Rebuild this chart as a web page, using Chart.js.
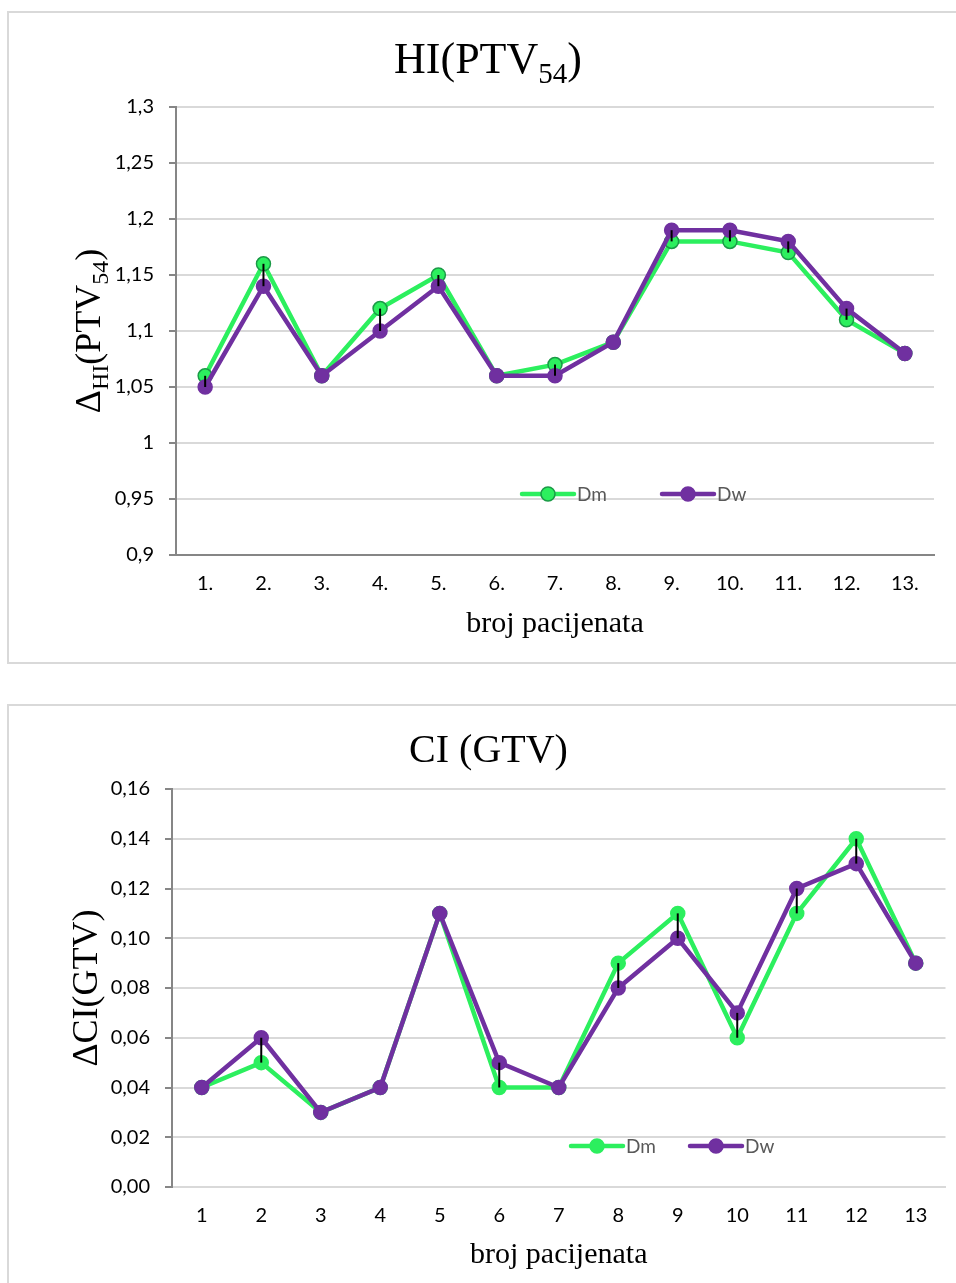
<!DOCTYPE html>
<html>
<head>
<meta charset="utf-8">
<script src="https://cdn.jsdelivr.net/npm/chart.js@4"></script>
<style>
  html, body { margin: 0; padding: 0; background: #fff; overflow: hidden; }
  .box { position: absolute; left: 7px; width: 960px; border: 2px solid #d9d9d9; background: #fff; }
  #box1 { top: 11px; height: 649px; }
  #box2 { top: 704px; height: 598px; }
  canvas { display: block; }
</style>
</head>
<body>
<div class="box" id="box1"><canvas id="hi" width="945" height="649"></canvas></div>
<div class="box" id="box2"><canvas id="ci" width="945" height="598"></canvas></div>
<script>
// HI(PTV54) chart
const patients1 = ['1.', '2.', '3.', '4.', '5.', '6.', '7.', '8.', '9.', '10.', '11.', '12.', '13.'];
const hiDm = [1.06, 1.16, 1.06, 1.12, 1.15, 1.06, 1.07, 1.09, 1.18, 1.18, 1.17, 1.11, 1.08];
const hiDw = [1.05, 1.14, 1.06, 1.10, 1.14, 1.06, 1.06, 1.09, 1.19, 1.19, 1.18, 1.12, 1.08];
const hiTicks = ['0,9', '0,95', '1', '1,05', '1,1', '1,15', '1,2', '1,25', '1,3'];

// CI (GTV) chart
const patients2 = ['1', '2', '3', '4', '5', '6', '7', '8', '9', '10', '11', '12', '13'];
const ciDm = [0.04, 0.05, 0.03, 0.04, 0.11, 0.04, 0.04, 0.09, 0.11, 0.06, 0.11, 0.14, 0.09];
const ciDw = [0.04, 0.06, 0.03, 0.04, 0.11, 0.05, 0.04, 0.08, 0.10, 0.07, 0.12, 0.13, 0.09];
const ciTicks = ['0,00', '0,02', '0,04', '0,06', '0,08', '0,10', '0,12', '0,14', '0,16'];

const GREEN = '#2cef5e';
const PURPLE = '#7030a0';
const SERIF = '"Liberation Serif", "Times New Roman", serif';
const SANS = 'Lato, Calibri, "Open Sans", sans-serif';

// draws text made of pieces, some of them subscript
function richText(ctx, parts, size, subSize, subShift) {
    let total = 0;
    parts.forEach(p => {
        ctx.font = (p.sub ? subSize : size) + 'px ' + SERIF;
        p.w = ctx.measureText(p.t).width;
        total += p.w;
    });
    let x = -total / 2;
    parts.forEach(p => {
        ctx.font = (p.sub ? subSize : size) + 'px ' + SERIF;
        ctx.fillText(p.t, x, p.sub ? subShift : 0);
        x += p.w;
    });
}

const textPlugin = {
    id: 'texts',
    afterDraw(chart, args, opts) {
        const ctx = chart.ctx;
        const area = chart.chartArea;
        ctx.save();
        ctx.fillStyle = '#000';
        ctx.textBaseline = 'alphabetic';
        ctx.textAlign = 'left';
        // main title
        ctx.save();
        ctx.translate(opts.title.x, opts.title.y);
        richText(ctx, opts.title.parts, opts.title.size, opts.title.subSize, opts.title.shift);
        ctx.restore();
        // y axis title
        ctx.save();
        ctx.translate(opts.yTitle.x, (area.top + area.bottom) / 2);
        ctx.rotate(-Math.PI / 2);
        richText(ctx, opts.yTitle.parts, opts.yTitle.size, opts.yTitle.subSize, opts.yTitle.shift);
        ctx.restore();
        // x axis title
        ctx.save();
        ctx.translate((area.left + area.right) / 2, opts.xTitle.y);
        richText(ctx, [{t: opts.xTitle.text}], opts.xTitle.size, 0, 0);
        ctx.restore();
        ctx.restore();
    }
};

// black high-low lines between the two series
const hiLowPlugin = {
    id: 'hiLow',
    afterDatasetsDraw(chart) {
        const ctx = chart.ctx;
        const xs = chart.scales.x, ys = chart.scales.y;
        const a = chart.data.datasets[0].data, b = chart.data.datasets[1].data;
        ctx.save();
        ctx.strokeStyle = '#000';
        ctx.lineWidth = 2;
        a.forEach((v, i) => {
            if (Math.abs(v - b[i]) < 1e-9) return;
            const x = xs.getPixelForValue(i);
            ctx.beginPath();
            ctx.moveTo(x, ys.getPixelForValue(v));
            ctx.lineTo(x, ys.getPixelForValue(b[i]));
            ctx.stroke();
        });
        ctx.restore();
    }
};

const legendPlugin = {
    id: 'inLegend',
    afterDraw(chart, args, opts) {
        const ctx = chart.ctx;
        ctx.save();
        chart.data.datasets.forEach((ds, i) => {
            const x = opts.xs[i], y = opts.y;
            ctx.strokeStyle = ds.borderColor;
            ctx.lineWidth = ds.borderWidth;
            ctx.lineCap = 'round';
            ctx.beginPath();
            ctx.moveTo(x, y);
            ctx.lineTo(x + 52, y);
            ctx.stroke();
            ctx.beginPath();
            ctx.arc(x + 26, y, ds.pointRadius, 0, Math.PI * 2);
            ctx.fillStyle = ds.pointBackgroundColor;
            ctx.fill();
            ctx.lineWidth = ds.pointBorderWidth;
            ctx.strokeStyle = ds.pointBorderColor;
            ctx.stroke();
            ctx.fillStyle = '#595959';
            ctx.font = '19px ' + SANS;
            ctx.textBaseline = 'middle';
            ctx.fillText(ds.label, x + 55, y + 1);
        });
        ctx.restore();
    }
};

function makeChart(id, cfg) {
    return new Chart(document.getElementById(id), {
        type: 'line',
        data: {
            labels: cfg.labels,
            datasets: [
                {
                    label: 'Dm', data: cfg.dm, order: 2,
                    borderColor: GREEN, borderWidth: 4.5,
                    pointRadius: 7, pointBackgroundColor: GREEN,
                    pointBorderColor: cfg.dmBorder, pointBorderWidth: 1.5
                },
                {
                    label: 'Dw', data: cfg.dw, order: 1,
                    borderColor: PURPLE, borderWidth: 4.5,
                    pointRadius: 7, pointBackgroundColor: PURPLE,
                    pointBorderColor: PURPLE, pointBorderWidth: 1.5
                }
            ]
        },
        options: {
            responsive: false,
            animation: false,
            layout: { padding: cfg.padding },
            plugins: {
                legend: { display: false },
                tooltip: { enabled: false },
                texts: cfg.texts,
                inLegend: cfg.legend
            },
            scales: {
                x: {
                    offset: true,
                    afterFit: s => { s.height = cfg.xHeight; },
                    grid: { display: false, drawTicks: false },
                    border: { display: true, color: cfg.xBorder, width: 2 },
                    ticks: { color: '#000', padding: 17, font: { family: SANS, size: 20 } }
                },
                y: {
                    min: cfg.min, max: cfg.max,
                    afterFit: s => { s.width = cfg.yWidth; },
                    grid: { color: '#d9d9d9', lineWidth: 2, tickLength: 7, tickColor: '#868686', tickWidth: 2 },
                    border: { display: true, color: '#868686', width: 2 },
                    ticks: {
                        stepSize: cfg.step, padding: 15, color: '#000',
                        font: { family: SANS, size: 20 },
                        callback: (v, i) => cfg.tickLabels[i] ?? ''
                    }
                }
            }
        },
        plugins: [hiLowPlugin, legendPlugin, textPlugin]
    });
}

makeChart('hi', {
    labels: patients1, dm: hiDm, dw: hiDw, tickLabels: hiTicks,
    min: 0.9, max: 1.3, step: 0.05,
    dmBorder: '#1b9a47', xBorder: '#868686',
    padding: { top: 94, right: 20, left: 0, bottom: 0 },
    yWidth: 167, xHeight: 107,
    legend: { xs: [513, 653], y: 481 },
    texts: {
        title: { x: 479, y: 60, size: 44, subSize: 29, shift: 10, parts: [{t: 'HI(PTV'}, {t: '54', sub: true}, {t: ')'}] },
        yTitle: { x: 91, size: 36, subSize: 24, shift: 8, parts: [{t: 'Δ'}, {t: 'HI', sub: true}, {t: '(PTV'}, {t: '54', sub: true}, {t: ')'}] },
        xTitle: { y: 619, size: 30, text: 'broj pacijenata' }
    }
});

makeChart('ci', {
    labels: patients2, dm: ciDm, dw: ciDw, tickLabels: ciTicks,
    min: 0, max: 0.16, step: 0.02,
    dmBorder: GREEN, xBorder: '#d9d9d9',
    padding: { top: 83, right: 7, left: 0, bottom: 0 },
    yWidth: 163, xHeight: 117,
    legend: { xs: [562, 681], y: 440 },
    texts: {
        title: { x: 479.5, y: 56, size: 40, subSize: 26, shift: 8, parts: [{t: 'CI (GTV)'}] },
        yTitle: { x: 88, size: 36, subSize: 24, shift: 8, parts: [{t: 'ΔCI(GTV)'}] },
        xTitle: { y: 557, size: 30, text: 'broj pacijenata' }
    }
});
</script>
</body>
</html>
